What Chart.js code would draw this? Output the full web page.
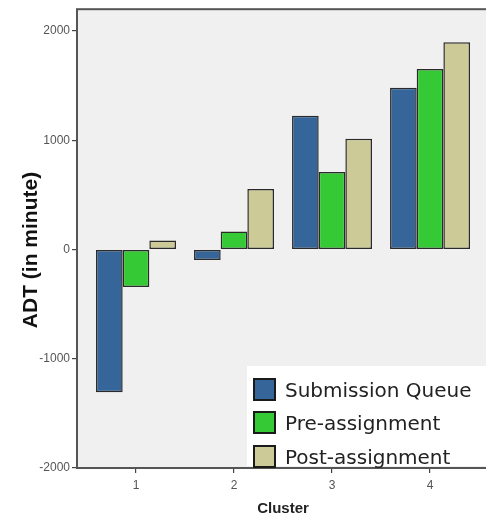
<!DOCTYPE html>
<html>
<head>
<meta charset="utf-8">
<script src="https://cdn.jsdelivr.net/npm/chart.js@4/dist/chart.umd.min.js"></script>
<style>
  html, body { margin: 0; padding: 0; background: #ffffff; }
  #wrap { position: relative; width: 486px; height: 522px; overflow: hidden; }
  #legend { position: absolute; left: 247px; top: 366px; width: 239px; height: 100px;
            background: #ffffff; font-family: "DejaVu Sans", Verdana, sans-serif; font-size: 20px; color: #222; }
  .item { position: absolute; left: 6px; height: 24px; line-height: 24px; white-space: nowrap; }
  .sw { position: absolute; left: 0; top: 0; width: 19px; height: 19px; border: 2px solid #1a1a1a; }
  .lbl { position: absolute; left: 32px; top: 0px; }
</style>
</head>
<body>
<div id="wrap">
  <canvas id="c" width="486" height="522"></canvas>
  <div id="legend"></div>
</div>
<script>
const categories = ["1", "2", "3", "4"];
const seriesNames = ["Submission Queue", "Pre-assignment", "Post-assignment"];
const submissionQueue = [-1306, -97, 1224, 1482];
const preAssignment = [-344, 164, 709, 1653];
const postAssignment = [82, 554, 1013, 1897];
const yTickValues = [-2000, -1000, 0, 1000, 2000];
const seriesColors = ["#36659a", "#36c936", "#cccb98"];
const yTitle = "ADT (in minute)";
const xTitle = "Cluster";

const seriesValues = [submissionQueue, preAssignment, postAssignment];

const datasets = seriesNames.map((name, i) => ({
  label: name,
  data: categories.map((c, j) => ({ x: Number(c), y: seriesValues[i][j] })),
  backgroundColor: seriesColors[i],
  borderColor: "#2a2a2a",
  borderWidth: 1.5,
  borderSkipped: false,
  categoryPercentage: 0.816,
  barPercentage: 1.0
}));

const framePlugin = {
  id: "frame",
  beforeDraw(chart) {
    const { ctx, chartArea: a } = chart;
    ctx.save();
    ctx.fillStyle = "#f0f0f0";
    ctx.fillRect(a.left, a.top, a.right - a.left + 5, a.bottom - a.top);
    ctx.restore();
  },
  afterDatasetsDraw(chart) {
    const { ctx, chartArea: a } = chart;
    ctx.save();
    ctx.strokeStyle = "#555555";
    ctx.lineWidth = 2;
    ctx.strokeRect(a.left, a.top, a.right - a.left + 10, a.bottom - a.top);
    ctx.restore();
  },
  afterDraw(chart) {
    const { ctx } = chart;
    ctx.save();
    ctx.fillStyle = "#111111";
    ctx.textAlign = "center";
    ctx.textBaseline = "middle";
    ctx.font = "bold 21px 'Liberation Sans', Arial, sans-serif";
    ctx.translate(31, 250);
    ctx.rotate(-Math.PI / 2);
    ctx.fillText(yTitle, 0, 0);
    ctx.restore();
    ctx.save();
    ctx.fillStyle = "#222222";
    ctx.textAlign = "center";
    ctx.textBaseline = "middle";
    ctx.font = "bold 15px 'Liberation Sans', Arial, sans-serif";
    ctx.fillText(xTitle, 283, 509);
    ctx.restore();
  }
};

const chart = new Chart(document.getElementById("c"), {
  type: "bar",
  data: { datasets },
  options: {
    responsive: false,
    animation: false,
    events: [],
    layout: { padding: { top: 8, left: 0, right: 0, bottom: 0 } },
    plugins: { legend: { display: false }, tooltip: { enabled: false } },
    scales: {
      x: {
        type: "linear",
        offset: false,
        min: 0.398,
        max: 4.571,
        afterFit(s) { s.height = 54; },
        afterBuildTicks(s) { s.ticks = categories.map(c => ({ value: Number(c) })); },
        ticks: {
          callback: (v) => String(v),
          font: { family: "'Liberation Sans', Arial, sans-serif", size: 12 },
          color: "#555555",
          padding: 5,
          maxRotation: 0,
          autoSkip: false
        },
        grid: { offset: false, drawOnChartArea: false, drawTicks: true, tickLength: 5, color: "#444444", lineWidth: 1.2 },
        border: { display: false }
      },
      y: {
        type: "linear",
        min: -2000,
        max: 2200,
        afterFit(s) { s.width = 77; },
        afterBuildTicks(s) { s.ticks = yTickValues.map(v => ({ value: v })); },
        ticks: {
          callback: (v) => String(v),
          font: { family: "'Liberation Sans', Arial, sans-serif", size: 12 },
          color: "#555555",
          padding: 2
        },
        grid: { drawOnChartArea: false, drawTicks: true, tickLength: 5, color: "#444444", lineWidth: 1.2 },
        border: { display: false }
      }
    }
  },
  plugins: [framePlugin]
});

const legendEl = document.getElementById("legend");
const rowTops = [12, 45, 79];
chart.data.datasets.forEach((ds, i) => {
  const item = document.createElement("div");
  item.className = "item";
  item.style.top = rowTops[i] + "px";
  const sw = document.createElement("span");
  sw.className = "sw";
  sw.style.background = ds.backgroundColor;
  const lbl = document.createElement("span");
  lbl.className = "lbl";
  lbl.textContent = ds.label;
  item.appendChild(sw);
  item.appendChild(lbl);
  legendEl.appendChild(item);
});
</script>
</body>
</html>
